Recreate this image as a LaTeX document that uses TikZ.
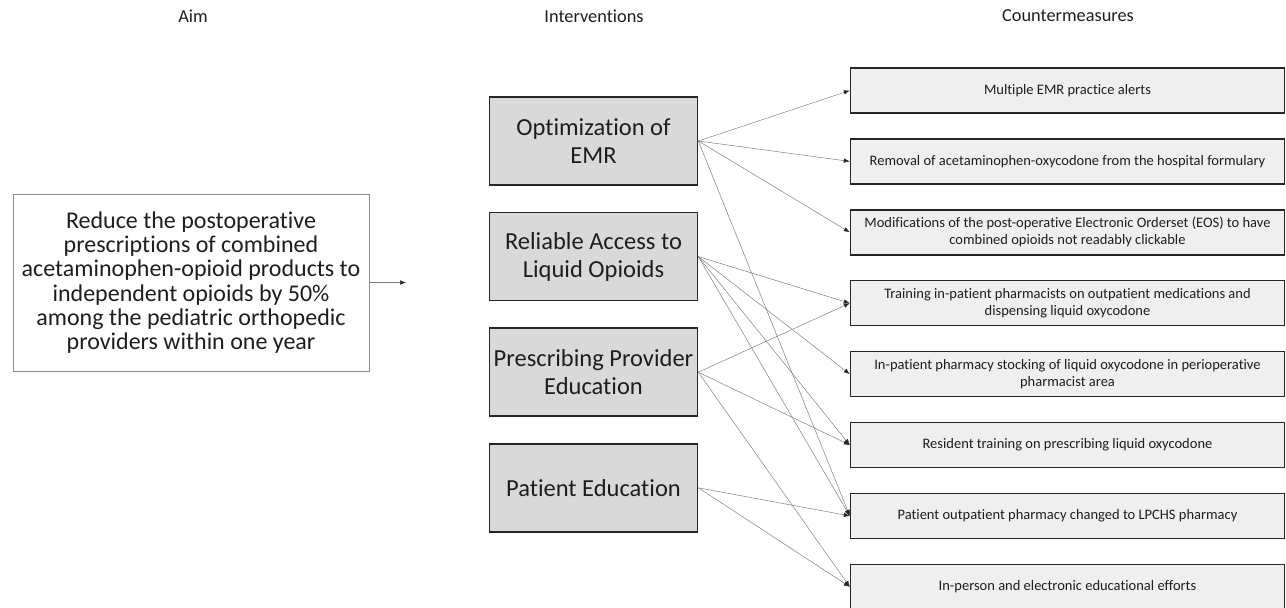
\documentclass[tikz,border=0pt]{standalone}
\usepackage{fontspec}
\setmainfont{Carlito}[Ligatures=NoCommon]
\usetikzlibrary{
  arrows.meta,
  positioning,  % Function "of" (e.g. [below=of x])
}
\definecolor{boxgray}{HTML}{D9D9D9}
\definecolor{cmgray}{HTML}{EFEFEF}
\definecolor{linegray}{HTML}{808080}
\definecolor{textdark}{HTML}{1E1E1E}
\def\myigap{26pt}
\def\mycgap{24.5pt}
\tikzset{
  >={Latex[length=6pt,width=4.5pt,color=black!85]},
  column title/.style={
    text=textdark,
    font=\fontsize{18.3}{21}\selectfont
  },
  my aim/.style={
    draw=black!45,
    fill=white,
    line width=0.6pt,
    minimum width=356pt,
    minimum height=177pt,
    inner sep=0pt,
    align=center,
    text=textdark,
    font=\fontsize{24}{24.2}\selectfont
  },
  my intervention/.style={
    draw=black!85,
    fill=boxgray,
    line width=1.6pt,
    minimum width=208pt,
    minimum height=88pt,
    inner sep=0pt,
    align=center,
    text=textdark,
    font=\fontsize{24.5}{28}\selectfont
  },
  my measure/.style={
    draw=black!85,
    fill=cmgray,
    line width=1.4pt,
    minimum width=434pt,
    minimum height=45pt,
    inner sep=0pt,
    align=center,
    text=textdark,
    font=\fontsize{14.5}{17}\selectfont
  },
  link/.style={
    ->,
    draw=linegray,
    line width=0.5pt
  }
}
\begin{document}
\begin{tikzpicture}[x=1pt,y=-1pt]
\useasboundingbox (0,0) rectangle (1286,608);
% column titles
\node[column title] (aimtitle) at (193,16)  {Aim};
\node[column title] (inttitle) at (594,16)  {Interventions};
\node[column title] (cmtitle)  at (1068,16) {Countermeasures};
% aim
\node[my aim] (aim) at (191,282.5)
  {Reduce the postoperative\\prescriptions of combined\\acetaminophen-opioid products to\\independent opioids by 50\%\\among the pediatric orthopedic\\providers within one year};
\coordinate (aimtip) at (406,282.5);
% interventions
\node[my intervention] (emr) at (593.5,141) {Optimization of\\EMR};
\node[my intervention] (liquid)  [below=\myigap of emr]    {Reliable Access to\\Liquid Opioids};
\node[my intervention] (provider) [below=\myigap of liquid] {Prescribing Provider\\Education};
\node[my intervention] (patient) [below=\myigap of provider] {Patient Education};
% countermeasures
\node[my measure] (m1) at (1067.5,90.5) {Multiple EMR practice alerts};
\node[my measure] (m2) [below=\mycgap of m1] {Removal of acetaminophen-oxycodone from the hospital formulary};
\node[my measure] (m3) [below=\mycgap of m2] {Modifications of the post-operative Electronic Orderset (EOS) to have\\combined opioids not readably clickable};
\node[my measure] (m4) [below=\mycgap of m3] {Training in-patient pharmacists on outpatient medications and\\dispensing liquid oxycodone};
\node[my measure] (m5) [below=\mycgap of m4] {In-patient pharmacy stocking of liquid oxycodone in perioperative\\pharmacist area};
\node[my measure] (m6) [below=\mycgap of m5] {Resident training on prescribing liquid oxycodone};
\node[my measure] (m7) [below=\mycgap of m6] {Patient outpatient pharmacy changed to LPCHS pharmacy};
\node[my measure] (m8) [below=\mycgap of m7] {In-person and electronic educational efforts};
% links
\path (aim.east) edge[link] (aimtip);
\path[every edge/.append style={link}]
  (emr.east)      edge (m1.west) edge (m2.west) edge (m3.west) edge (m7.west)
  (liquid.east)   edge (m4.west) edge (m5.west) edge (m6.west) edge (m7.west)
  (provider.east) edge (m4.west) edge (m6.west) edge (m8.west)
  (patient.east)  edge (m7.west) edge (m8.west);
\end{tikzpicture}
\end{document}
